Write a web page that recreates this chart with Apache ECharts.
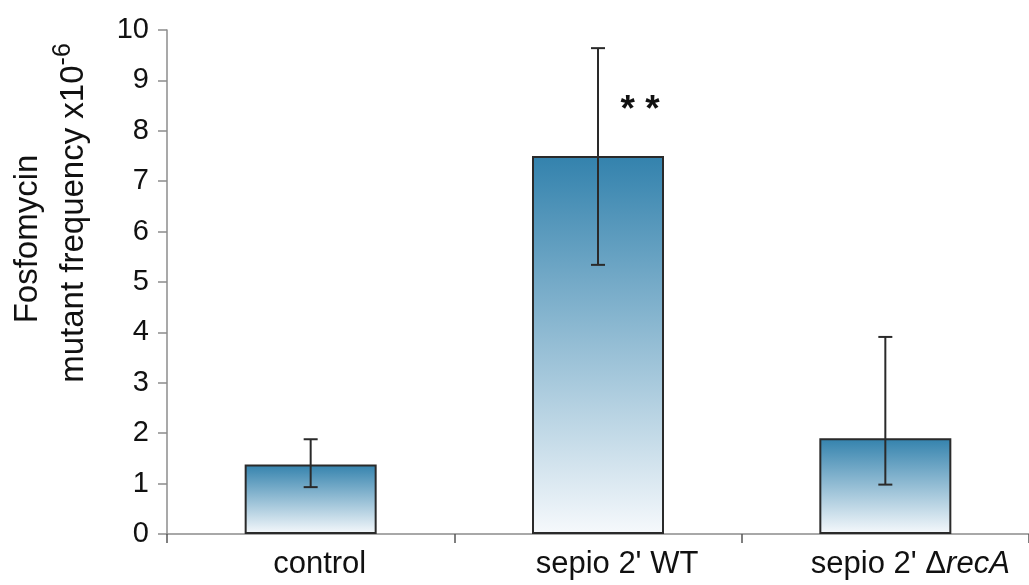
<!DOCTYPE html>
<html>
<head>
<meta charset="utf-8">
<script src="https://cdn.jsdelivr.net/npm/echarts@6/dist/echarts.min.js"></script>
<style>
html,body{margin:0;padding:0;background:#fff;}
#c{width:1029px;height:585px;}
</style>
</head>
<body>
<div id="c"></div>
<script>
const categories = ['control', "sepio 2' WT", "sepio 2' ΔrecA"];
const means = [1.38, 7.5, 1.9];
const errLow = [0.93, 5.34, 0.98];
const errHigh = [1.88, 9.64, 3.91];
const yTicks = [0, 1, 2, 3, 4, 5, 6, 7, 8, 9, 10];
const signif = [{ category: 1, value: 8.4, text: '* *' }];

const FONT = '"Liberation Sans", Arial, sans-serif';
const chart = echarts.init(document.getElementById('c'));

const errData = categories.map((c, i) => [i, errLow[i], errHigh[i]]);

chart.setOption({
  animation: false,
  backgroundColor: '#ffffff',
  grid: { left: 167, top: 30, bottom: 51, width: 870 },
  xAxis: {
    type: 'category',
    data: categories,
    boundaryGap: true,
    axisLine: { lineStyle: { color: '#8c8c8c', width: 1.5 } },
    axisTick: { show: true, interval: 0, alignWithLabel: false, length: 9, lineStyle: { color: '#555', width: 1.5 } },
    axisLabel: {
      interval: 0,
      hideOverlap: false,
      margin: 15,
      color: '#111',
      fontFamily: FONT,
      fontSize: 31,
      formatter: function (v, i) {
        if (i === 0) return '{a|control}';
        if (i === 1) return "{b|sepio 2' WT}";
        return "{c|sepio 2' Δ}{it|recA}";
      },
      rich: {
        a: { fontFamily: FONT, fontSize: 31, color: '#111', padding: [0, 0, 0, 18] },
        b: { fontFamily: FONT, fontSize: 31, color: '#111', padding: [0, 0, 0, 38] },
        c: { fontFamily: FONT, fontSize: 31, color: '#111', padding: [0, 0, 0, 50] },
        it: { fontFamily: FONT, fontSize: 31, color: '#111', fontStyle: 'italic' }
      }
    },
    splitLine: { show: false }
  },
  yAxis: {
    type: 'value',
    min: yTicks[0],
    max: yTicks[yTicks.length - 1],
    interval: 1,
    axisLine: { show: true, lineStyle: { color: '#8c8c8c', width: 1.5 } },
    axisTick: { show: true, length: 9, lineStyle: { color: '#8c8c8c', width: 1.5 } },
    axisLabel: { margin: 18, color: '#111', fontFamily: FONT, fontSize: 29 },
    splitLine: { show: false }
  },
  graphic: [
    {
      type: 'text', x: 28, y: 239, rotation: Math.PI / 2,
      style: { text: 'Fosfomycin', font: '33px ' + FONT, fill: '#111', align: 'center', verticalAlign: 'middle' }
    },
    {
      type: 'text', x: 74, y: 213, rotation: Math.PI / 2,
      style: {
        text: 'mutant frequency x10{sup|-6}', font: '33px ' + FONT, fill: '#111', align: 'center', verticalAlign: 'middle',
        rich: { sup: { font: '25px ' + FONT, fill: '#111', padding: [0, 0, 22, 0] } }
      }
    }
  ],
  series: [
    {
      type: 'bar',
      data: means,
      barWidth: 132,
      itemStyle: {
        color: new echarts.graphic.LinearGradient(0, 0, 0, 1, [
          { offset: 0, color: '#3382ad' },
          { offset: 1, color: '#f6f9fc' }
        ]),
        borderColor: '#2a2a2a',
        borderWidth: 2
      },
      markPoint: {
        symbol: 'circle', symbolSize: 0,
        data: signif.map(s => ({ coord: [s.category, s.value], value: s.text })),
        label: {
          show: true, formatter: '{c}', offset: [42, 0],
          color: '#111', fontFamily: FONT, fontSize: 37, fontWeight: 'bold'
        }
      },
      z: 2
    },
    {
      type: 'custom',
      data: errData,
      z: 5,
      renderItem: function (params, api) {
        const x = api.value(0);
        const lo = api.coord([x, api.value(1)]);
        const hi = api.coord([x, api.value(2)]);
        const hw = 7;
        const style = { stroke: '#2a2a2a', lineWidth: 2 };
        return {
          type: 'group',
          children: [
            { type: 'line', shape: { x1: lo[0], y1: lo[1], x2: hi[0], y2: hi[1] }, style: style },
            { type: 'line', shape: { x1: hi[0] - hw, y1: hi[1], x2: hi[0] + hw, y2: hi[1] }, style: style },
            { type: 'line', shape: { x1: lo[0] - hw, y1: lo[1], x2: lo[0] + hw, y2: lo[1] }, style: style }
          ]
        };
      }
    }
  ]
});
</script>
</body>
</html>
